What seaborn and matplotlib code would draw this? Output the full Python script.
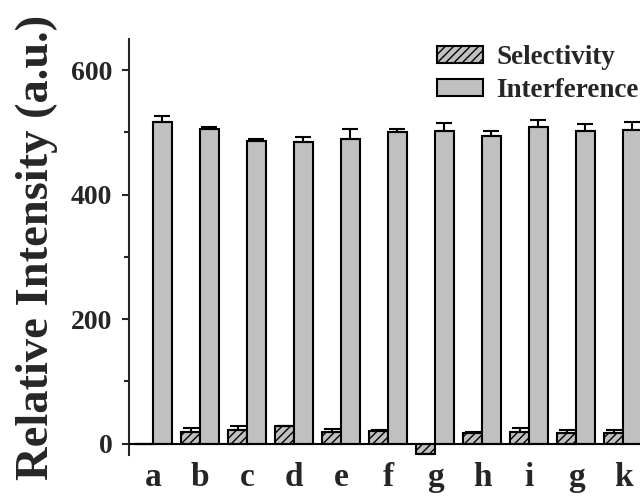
import numpy as np
import pandas as pd
import matplotlib
matplotlib.use("Agg")
import matplotlib.pyplot as plt
import seaborn as sns
from matplotlib.patches import Patch
from matplotlib.ticker import MultipleLocator

# values
labels = ['a', 'b', 'c', 'd', 'e', 'f', 'g', 'h', 'i', 'g', 'k']
selectivity = [0, 18, 21, 28, 18, 20, -17, 17, 19, 17, 17]
selectivity_err = [0, 7, 7, 1, 6, 1, 0, 1, 6, 5, 5]
interference = [516, 506, 486, 484, 490, 500, 502, 494, 509, 502, 503]
interference_err = [10, 3, 4, 9, 16, 6, 13, 8, 10, 11, 13]
series = ['Selectivity', 'Interference']

sns.set_style('ticks')
plt.rcParams['font.family'] = ['Liberation Serif', 'DejaVu Serif']
plt.rcParams['font.weight'] = 'bold'
plt.rcParams['hatch.linewidth'] = 1.0

pos = np.arange(len(labels))
df = pd.DataFrame({
    'pos': np.concatenate([pos, pos]),
    'value': selectivity + interference,
    'series': [series[0]] * len(pos) + [series[1]] * len(pos),
})

fig = plt.figure(figsize=(6.4, 4.97), dpi=100)
ax = fig.add_axes([0.2016, 0.0837, 0.8086, 0.838])

bar_color = '#c0c0c0'
sns.barplot(data=df, x='pos', y='value', hue='series', hue_order=series,
            palette=[bar_color, bar_color], width=0.8, errorbar=None,
            edgecolor='black', linewidth=1.5, legend=False, ax=ax)

for p in ax.containers[0].patches:
    p.set_hatch('////')

errs = [selectivity_err, interference_err]
for cont, err in zip(ax.containers, errs):
    xs = [p.get_x() + p.get_width() / 2 for p in cont.patches]
    ys = [p.get_height() for p in cont.patches]
    lower = np.zeros(len(err))
    ax.errorbar(xs, ys, yerr=[lower, err], fmt='none', ecolor='black',
                elinewidth=1.5, capsize=6, capthick=1.5, zorder=3)

ax.axhline(0, color='black', lw=1.5, zorder=4)
ax.set_xlim(-0.51, 10.5)
ax.set_ylim(-19, 650)

for side in ['top', 'right', 'bottom']:
    ax.spines[side].set_visible(False)
ax.spines['left'].set_linewidth(1.5)

ax.yaxis.set_major_locator(MultipleLocator(200))
ax.yaxis.set_minor_locator(MultipleLocator(100))
ax.tick_params(axis='y', which='major', length=5, width=1.5, labelsize=20, pad=7, direction='out')
ax.tick_params(axis='y', which='minor', length=3.5, width=1.5, direction='out')
ax.tick_params(axis='x', length=0, labelsize=24, pad=5)
ax.set_xticks(pos)
ax.set_xticklabels(labels, fontweight='bold')
for t in ax.get_yticklabels():
    t.set_fontweight('bold')

ax.set_xlabel('')
ax.set_ylabel('Relative Intensity (a.u.)', fontsize=33.5, fontweight='bold')
ax.yaxis.set_label_coords(-0.138, 0.50)

handles = [Patch(facecolor=bar_color, edgecolor='black', hatch='////', linewidth=1.5),
           Patch(facecolor=bar_color, edgecolor='black', linewidth=1.5)]
fig.legend(handles, series, loc='upper left', bbox_to_anchor=(437 / 640, 1 - 45 / 497),
           frameon=False, handlelength=1.7, handleheight=0.6,
           handletextpad=0.5, labelspacing=0.3, borderpad=0, borderaxespad=0,
           prop={'weight': 'bold', 'size': 19.5})

fig.savefig('out.png', dpi=100)
